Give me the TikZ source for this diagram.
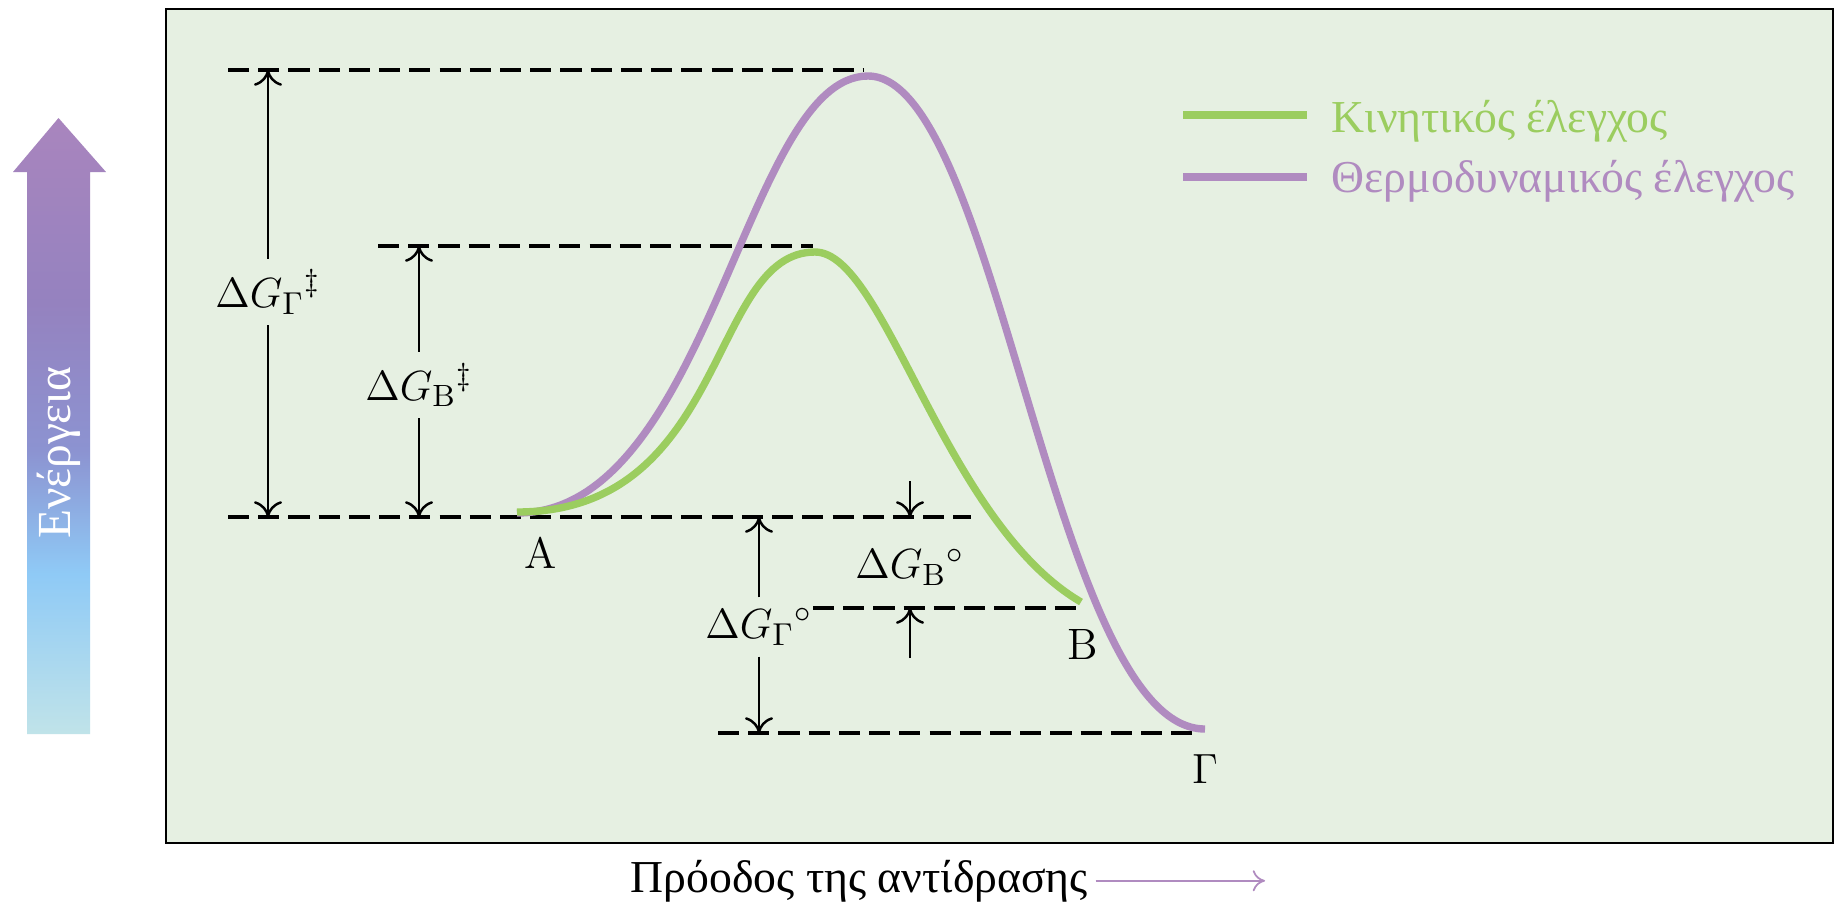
\documentclass[tikz,border=0pt]{standalone}
\usepackage{fontspec}
\newfontfamily\grk{Liberation Serif}
\usetikzlibrary{arrows.meta}
\definecolor{bgc}{HTML}{E6F0E2}
\definecolor{kin}{HTML}{9BCD5F}
\definecolor{thermo}{HTML}{B08BC0}
\definecolor{ebot}{HTML}{C0E3E9}
\definecolor{eblue}{HTML}{8FCAF6}
\definecolor{emid}{HTML}{8C93D1}
\definecolor{eviol}{HTML}{9582BF}
\definecolor{etop}{HTML}{A985BE}
\pgfdeclareverticalshading{energy}{100bp}{color(0bp)=(ebot); color(25bp)=(ebot); color(38bp)=(eblue); color(48bp)=(emid); color(60bp)=(eviol); color(75bp)=(etop); color(100bp)=(etop)}
\begin{document}
\begin{tikzpicture}[x=0.1mm,y=-0.1mm,
  lvl/.style={line width=1pt, dash pattern=on 6pt off 2.6pt},
  dimline/.style={line width=0.7pt, -{Computer Modern Rightarrow[length=4.5pt,width=8pt]}},
  curve/.style={line width=2.1pt},
  lab/.style={font=\fontsize{12.5}{15}\selectfont, inner sep=0pt},
  dlab/.style={font=\fontsize{12.5}{15}\selectfont, inner sep=3pt},
  grktext/.style={font=\grk\fontsize{13}{15}\selectfont, inner sep=0pt},
]
\useasboundingbox (0,0) rectangle (1835,905);
\fill[white] (0,0) rectangle (1835,905);
\draw[fill=bgc, line width=0.8pt] (166,9) rectangle (1833,843);

% energy arrow
\shade[shading=energy] (27,734) -- (27,172) -- (13,172) -- (58.5,118) -- (106,172) -- (90,172) -- (90,734) -- cycle;
\node[rotate=90, text=white, grktext, font=\grk\fontsize{13.5}{15}\selectfont] (en) at (58.5,453) {Ενέργεια};

% levels
\coordinate (t1) at (228,70);  \coordinate (t2) at (863,70);
\coordinate (b1) at (378,246); \coordinate (b2) at (813,246);
\coordinate (a1) at (228,517); \coordinate (a2) at (971,517);
\coordinate (l1) at (813,608); \coordinate (l2) at (1081,608);
\coordinate (g1) at (718,733); \coordinate (g2) at (1201,733);
\draw[lvl] (t1) -- (t2);
\draw[lvl] (b1) -- (b2);
\draw[lvl] (a1) -- (a2);
\draw[lvl] (l1) -- (l2);
\draw[lvl] (g1) -- (g2);

% curves
\coordinate (p0) at (517,513); \coordinate (p1) at (868,76); \coordinate (p2) at (1205,729);
\coordinate (k0) at (517,512); \coordinate (k1) at (815,252); \coordinate (k2) at (1081,602);
\draw[curve, thermo] (p0) .. controls (710,513) and (745,76) .. (p1) .. controls (998,76) and (1053,729) .. (p2);
\draw[curve, kin] (k0) .. controls (728,512) and (709,252) .. (k1) .. controls (885,252) and (944,522) .. (k2);

% dimension arrows
\node[dlab] (dGt) at (268,292) {$\Delta G_{\Gamma}{}^{\ddagger}$};
\draw[dimline] (dGt.north) -- (dGt.north |- t1);
\draw[dimline] (dGt.south) -- (dGt.south |- a1);
\node[dlab] (dGb) at (419,385) {$\Delta G_{\mathrm{B}}{}^{\ddagger}$};
\draw[dimline] (dGb.north) -- (dGb.north |- b1);
\draw[dimline] (dGb.south) -- (dGb.south |- a1);
\node[dlab] (dGg) at (759,627) {$\Delta G_{\Gamma}{}^{\circ}$};
\draw[dimline] (dGg.north) -- (dGg.north |- a1);
\draw[dimline] (dGg.south) -- (dGg.south |- g1);
\node[dlab] (dGbo) at (910,567) {$\Delta G_{\mathrm{B}}{}^{\circ}$};
\coordinate (bo1) at (910,481); \coordinate (bo2) at (910,658);
\draw[dimline] (bo1) -- (bo1 |- a1);
\draw[dimline] (bo2) -- (bo2 |- l1);

% state labels
\node[lab] (lA) at (541,553) {A};
\node[lab] (lB) at (1083,644) {B};
\node[lab] (lG) at (1205,769) {$\Gamma$};

% legend
\coordinate (lk1) at (1183,115); \coordinate (lk2) at (1307,115);
\coordinate (lt1) at (1183,177); \coordinate (lt2) at (1307,177);
\draw[curve, kin] (lk1) -- (lk2);
\draw[curve, thermo] (lt1) -- (lt2);
\node[grktext, text=kin, anchor=base west] (lk) at (1331,132) {Κινητικός έλεγχος};
\node[grktext, text=thermo, anchor=base west] (lt) at (1331,192) {Θερμοδυναμικός έλεγχος};

% x axis caption
\node[grktext, anchor=base west] (prog) at (630,892) {Πρόοδος της αντίδρασης};
\coordinate (pend) at (1265,881);
\draw[thermo, line width=0.5pt, -{Computer Modern Rightarrow[length=3.5pt,width=6pt]}] ([xshift=2pt]prog.east) -- (prog.east -| pend);
\end{tikzpicture}
\end{document}
